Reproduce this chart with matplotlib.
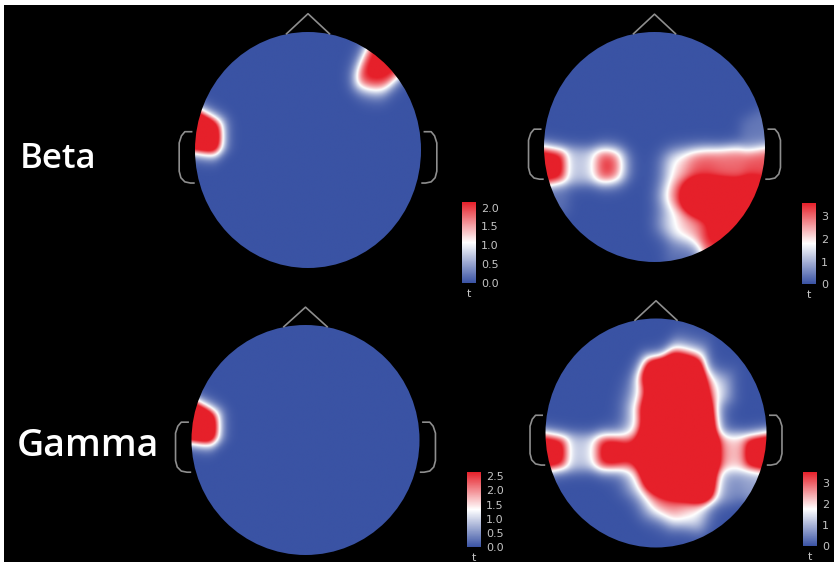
import numpy as np
import matplotlib
matplotlib.use('Agg')
import matplotlib.pyplot as plt
from matplotlib.colors import LinearSegmentedColormap, Normalize
from matplotlib.patches import Circle, Rectangle
from matplotlib.cm import ScalarMappable

W, H = 834, 562

# ---------------- data ----------------
band_labels = ['Beta', 'Gamma']
baseline_t = 0.0   # t-value of all electrodes not listed (uniform blue)

beta_left_t = {'FT7': 3.5, 'AF8': 2.4}
beta_right_t = {
    'T7': 4.5, 'C5': 1.2, 'C3': 3.8, 'TP7': 0.3,
    'C2': 2.2, 'C4': 3.2, 'C6': 3.0, 'T8': 3.2, 'FT8': 0.4,
    'CP2': 3.2, 'CP4': 7.0, 'CP6': 7.0, 'TP8': 7.0,
    'P2': 1.8, 'P4': 2.5, 'P6': 4.0, 'P8': 7.0, 'PO4': 0.4, 'PO8': 3.0,
}
gamma_left_t = {'FT7': 4.5}
gamma_right_t = {
    'AFz': 6.0, 'AF4': 7.5,
    'Fz': 9.0, 'F2': 9.0, 'F4': 9.0, 'F1': 1.0, 'F6': 1.4,
    'FCz': 9.0, 'FC2': 9.0, 'FC4': 9.0, 'FC1': 1.0,
    'Cz': 9.0, 'C2': 9.0, 'C4': 9.0, 'C1': 3.8, 'C6': 2.2, 'T8': 5.0,
    'C3': 4.5, 'C5': 1.2, 'T7': 4.5,
    'CPz': 9.0, 'CP2': 9.0, 'CP4': 9.0, 'CP1': 1.0, 'CP6': 0.6, 'TP8': 0.8,
    'Pz': 3.0, 'P2': 2.6, 'P4': 1.8,
}

beta_left_ticks = [0.0, 0.5, 1.0, 1.5, 2.0]
beta_right_ticks = [0, 1, 2, 3]
gamma_left_ticks = [0.0, 0.5, 1.0, 1.5, 2.0, 2.5]
gamma_right_ticks = [0, 1, 2, 3]
beta_left_vmax, beta_right_vmax = 2.15, 3.6
gamma_left_vmax, gamma_right_vmax = 2.65, 3.5

# ---------------- montage (10-10, stereographic projection) ----------------
SCALE, SHIFT = 0.98, -0.17


def montage():
    full = [('z', 0.0), ('1', 0.25), ('3', 0.5), ('5', 0.75), ('7', 1.0)]
    rows = [
        ('Fp', 90.0, 18.0, [('z', 0.0), ('1', 1.0)]),
        ('AF', 67.5, 36.0, [('z', 0.0), ('3', 0.5), ('7', 1.0)]),
        ('F', 45.0, 54.0, full),
        ('FC', 22.5, 72.0, full),
        ('C', 0.0, 90.0, full),
        ('CP', -22.5, 108.0, full),
        ('P', -45.0, 126.0, full),
        ('PO', -67.5, 144.0, [('z', 0.0), ('3', 0.5), ('7', 1.0)]),
        ('O', -90.0, 162.0, [('z', 0.0), ('1', 1.0)]),
    ]
    edge_name = {'FC': 'FT', 'C': 'T', 'CP': 'TP'}
    pos = {}
    for prefix, alpha, phi, cols in rows:
        a = np.radians(alpha)
        M = np.array([0.0, np.sin(a), np.cos(a)])
        for suf, f in cols:
            for side in (-1, 1):
                if suf == 'z':
                    if side == 1:
                        continue
                    name, P = prefix + 'z', M
                else:
                    num = int(suf) + (1 if side == 1 else 0)
                    pre = edge_name.get(prefix, prefix) if suf == '7' else prefix
                    name = f'{pre}{num}'
                    p = np.radians(phi)
                    E = np.array([side * np.sin(p), np.cos(p), 0.0])
                    om = np.arccos(np.clip(M @ E, -1, 1))
                    P = (np.sin((1 - f) * om) * M + np.sin(f * om) * E) / np.sin(om)
                theta = np.arccos(np.clip(P[2], -1, 1))
                az = np.arctan2(P[0], P[1])
                r = np.tan(theta / 2)
                pos[name] = (SCALE * r * np.sin(az), SCALE * r * np.cos(az) + SHIFT)
    return pos


POS = montage()
NAMES = list(POS)
PX = np.array([POS[n][0] for n in NAMES])
PY = np.array([POS[n][1] for n in NAMES])


def field(values, n=320, sigma=0.1):
    xs = np.linspace(-1.02, 1.02, n)
    X, Y = np.meshgrid(xs, xs)
    v = np.array([values.get(nm, baseline_t) for nm in NAMES])
    d2 = (X[..., None] - PX) ** 2 + (Y[..., None] - PY) ** 2
    d2 = d2 - d2.min(axis=-1, keepdims=True)
    w = np.exp(-d2 / (2 * sigma ** 2))
    return (w * v).sum(-1) / w.sum(-1)


cmap = LinearSegmentedColormap.from_list('bwr_t', ['#3a53a4', '#ffffff', '#e6202a'])
LINE = '#8e8e8e'
TXT = '#c4c4c4'

fig = plt.figure(figsize=(W / 100, H / 100), dpi=100, facecolor='white')
fig.add_artist(Rectangle((4 / W, 0), 1, (H - 5) / H, transform=fig.transFigure,
                         facecolor='black', edgecolor='none', zorder=-10))


def px_axes(x0, y0, x1, y1):
    return fig.add_axes([x0 / W, 1 - y1 / H, (x1 - x0) / W, (y1 - y0) / H])


def draw_head(cx, cy, rx, ry, values, vmax):
    L = 1.3
    ax = px_axes(cx - L * rx, cy - L * ry, cx + L * rx, cy + L * ry)
    ax.set_xlim(-L, L)
    ax.set_ylim(-L, L)
    ax.axis('off')
    Z = field(values)
    im = ax.imshow(Z, extent=(-1.02, 1.02, -1.02, 1.02), origin='lower', cmap=cmap,
                   vmin=0, vmax=vmax, interpolation='bilinear', aspect='auto')
    im.set_clip_path(Circle((0, 0), 1.0, transform=ax.transData))
    ax.plot([-0.19, 0, 0.19], [0.985, 1.155, 0.985], color=LINE, lw=1.2)
    ear_x = np.array([-1.03, -1.09, -1.12, -1.14, -1.14, -1.125, -1.09, -1.04, -1.01])
    ear_y = np.array([0.155, 0.155, 0.12, 0.06, -0.18, -0.235, -0.27, -0.28, -0.28])
    ax.plot(ear_x, ear_y, color=LINE, lw=1.2)
    ax.plot(-ear_x, ear_y, color=LINE, lw=1.2)


def draw_cbar(x0, y0, x1, y1, vmax, ticks, fmt):
    cax = px_axes(x0, y0, x1, y1)
    cb = fig.colorbar(ScalarMappable(norm=Normalize(0, vmax), cmap=cmap), cax=cax, ticks=ticks)
    cb.outline.set_visible(False)
    cb.set_ticklabels([fmt.format(t) for t in ticks])
    cax.tick_params(length=0, labelsize=8, colors=TXT, pad=3.5)
    fig.text((x0 + x1) / 2 / W, 1 - (y1 + 11) / H, 't', color=TXT, fontsize=8,
             ha='center', va='center')


draw_head(308, 150, 113, 118, beta_left_t, beta_left_vmax)
draw_head(654.5, 147, 110.5, 115, beta_right_t, beta_right_vmax)
draw_head(305.5, 440, 114, 115, gamma_left_t, gamma_left_vmax)
draw_head(656, 433, 110.5, 114.5, gamma_right_t, gamma_right_vmax)

draw_cbar(462, 202, 476, 283, beta_left_vmax, beta_left_ticks, '{:.1f}')
draw_cbar(802, 203, 816, 284, beta_right_vmax, beta_right_ticks, '{:d}')
draw_cbar(467, 472, 481, 547, gamma_left_vmax, gamma_left_ticks, '{:.1f}')
draw_cbar(803, 472, 817, 546, gamma_right_vmax, gamma_right_ticks, '{:d}')

fig.text(20 / W, 1 - 168 / H, band_labels[0], color='white', fontsize=25,
         family='Open Sans', weight='semibold', ha='left', va='baseline')
fig.text(17 / W, 1 - 456 / H, band_labels[1], color='white', fontsize=27,
         family='Open Sans', weight='semibold', ha='left', va='baseline')

fig.savefig('out.png', dpi=100, facecolor='white')
